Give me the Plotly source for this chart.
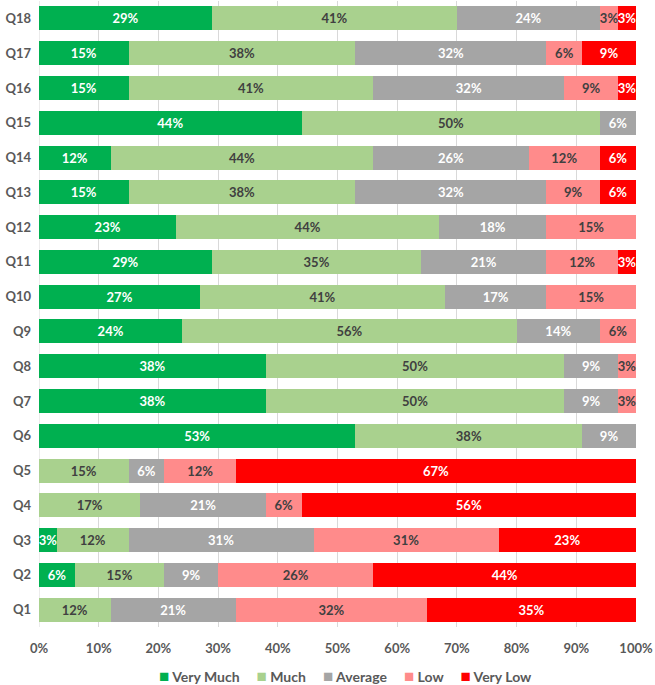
import plotly.graph_objects as go

questions = ["Q1", "Q2", "Q3", "Q4", "Q5", "Q6", "Q7", "Q8", "Q9", "Q10",
             "Q11", "Q12", "Q13", "Q14", "Q15", "Q16", "Q17", "Q18"]
very_much = [0, 6, 3, 0, 0, 53, 38, 38, 24, 27, 29, 23, 15, 12, 44, 15, 15, 29]
much      = [12, 15, 12, 17, 15, 38, 50, 50, 56, 41, 35, 44, 38, 44, 50, 41, 38, 41]
average   = [21, 9, 31, 21, 6, 9, 9, 9, 14, 17, 21, 18, 32, 26, 6, 32, 32, 24]
low       = [32, 26, 31, 6, 12, 0, 3, 3, 6, 15, 12, 15, 9, 12, 0, 9, 6, 3]
very_low  = [35, 44, 23, 56, 67, 0, 0, 0, 0, 0, 3, 0, 6, 6, 0, 3, 9, 3]

series = [
    ("Very Much", very_much, "#00B050", "white"),
    ("Much", much, "#A9D18E", "#404040"),
    ("Average", average, "#A5A5A5", "white"),
    ("Low", low, "#FF8B8B", "#404040"),
    ("Very Low", very_low, "#FF0000", "white"),
]

FONT = "Lato, Open Sans, sans-serif"

fig = go.Figure()
for name, vals, color, tcolor in series:
    fig.add_trace(go.Bar(
        y=questions, x=vals, name=name, orientation="h",
        marker=dict(color=color, line=dict(width=0)),
        text=[f"{v}%" if v > 0 else "" for v in vals],
        textposition="inside", insidetextanchor="middle", textangle=0,
        textfont=dict(color=tcolor, size=13, family=FONT, weight=700),
        constraintext="none", cliponaxis=False,
        hoverinfo="skip", showlegend=False,
    ))

legend_text = "&nbsp;&nbsp;&nbsp;&nbsp;&nbsp;".join(
    f"<span style='color:{c};font-size:17px'>■</span> {n}" for n, _, c, _ in series)
fig.add_annotation(text=legend_text, xref="paper", yref="paper", x=0.514, y=-0.078,
                   xanchor="center", yanchor="middle", showarrow=False,
                   font=dict(size=14, color="#595959", family=FONT, weight=700))

fig.update_layout(
    barmode="stack", bargap=0.31,
    width=655, height=685,
    margin=dict(l=39, r=19, t=1, b=58),
    plot_bgcolor="white", paper_bgcolor="white",
    uniformtext=dict(minsize=13, mode="show"),
    font=dict(family=FONT, color="#595959"),
    showlegend=False,
    xaxis=dict(range=[0, 100], ticksuffix="%", dtick=10, automargin=False,
               showgrid=True, gridcolor="#D9D9D9", gridwidth=1,
               zeroline=False, showline=False, ticks="", ticklabelstandoff=12,
               tickfont=dict(size=13, color="#595959", family=FONT, weight=700)),
    yaxis=dict(categoryorder="array", categoryarray=questions, automargin=False,
               showgrid=False, zeroline=False, showline=False, ticks="",
               ticklabelstandoff=7,
               tickfont=dict(size=13, color="#595959", family=FONT, weight=700)),
)
fig.add_shape(type="line", xref="x", yref="paper", x0=0, x1=0, y0=0, y1=1,
              line=dict(color="#D9D9D9", width=1), layer="below")

fig.write_html("out.html", config={"displayModeBar": False},
               post_script="document.body.style.margin='0';")
